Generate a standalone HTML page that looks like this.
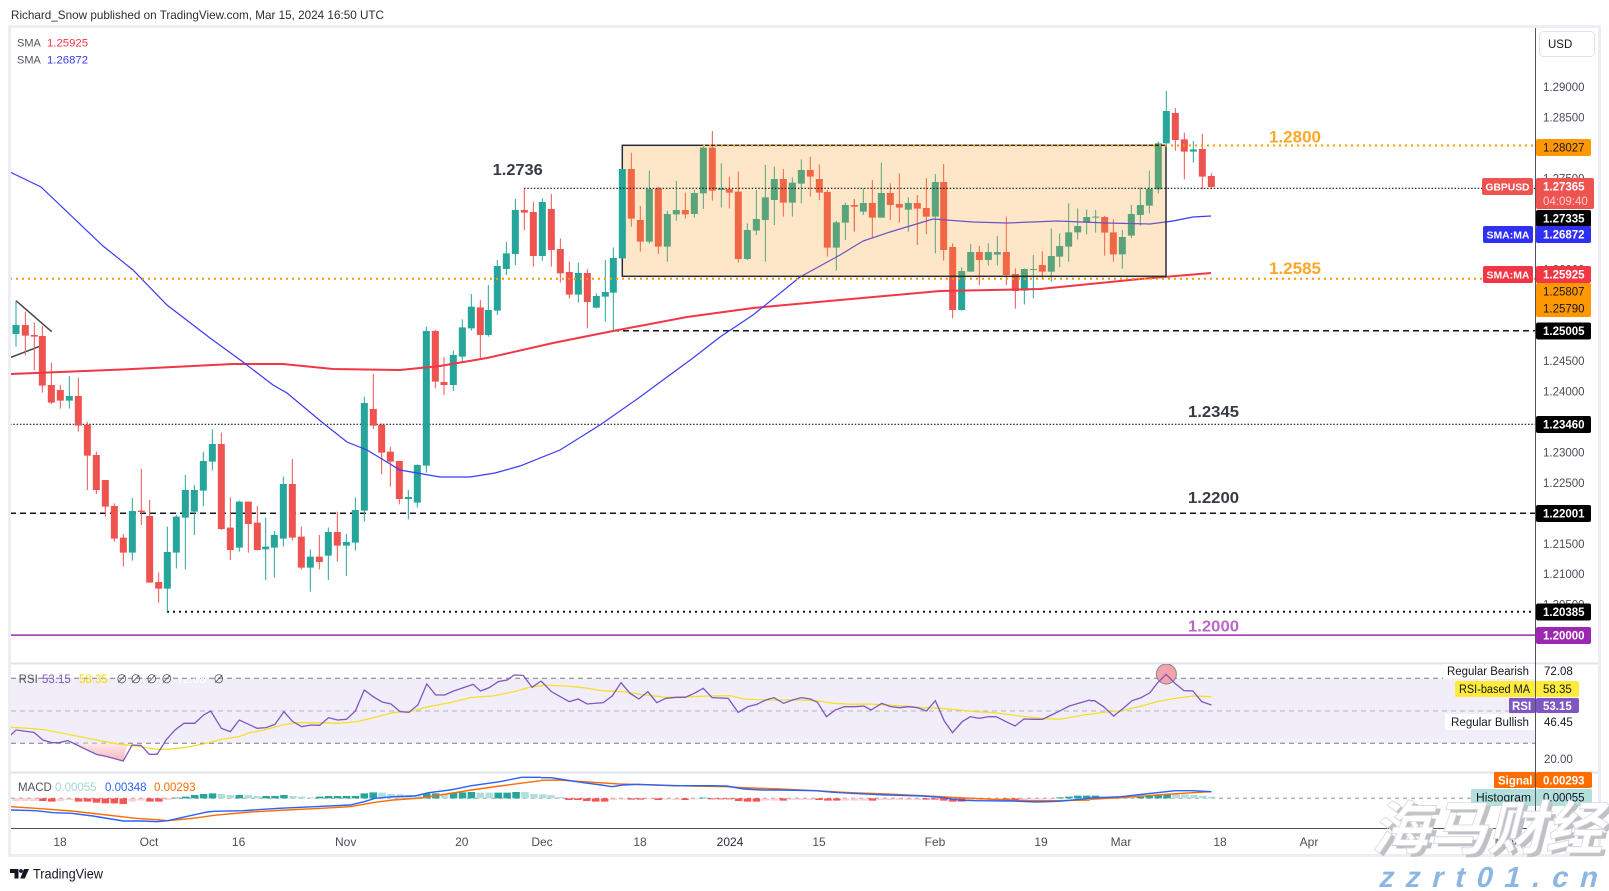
<!DOCTYPE html>
<html><head><meta charset="utf-8"><style>
html,body{margin:0;padding:0;background:#fff;}
svg{display:block;}
text{font-family:"Liberation Sans","Noto Sans CJK SC",sans-serif;}
</style></head><body>
<svg width="1609" height="891" viewBox="0 0 1609 891" xmlns="http://www.w3.org/2000/svg">
<defs>
<clipPath id="cm"><rect x="11" y="28" width="1524" height="635"/></clipPath>
<clipPath id="cr"><rect x="11" y="664" width="1524" height="107"/></clipPath>
<clipPath id="cd"><rect x="11" y="773" width="1524" height="55"/></clipPath>
<linearGradient id="pk" x1="0" y1="0" x2="0" y2="1"><stop offset="0" stop-color="#fde9eb"/><stop offset="1" stop-color="#f8b4bb"/></linearGradient>
</defs>
<rect width="1609" height="891" fill="#fff"/>
<text x="11" y="19" font-size="12" fill="#2a2e39" textLength="373" lengthAdjust="spacingAndGlyphs">Richard_Snow published on TradingView.com, Mar 15, 2024 16:50 UTC</text>

<!-- frame -->
<rect x="9.5" y="26.5" width="1590" height="829" fill="none" stroke="#eceef3" stroke-width="3"/>

<!-- MAIN PANE -->
<g clip-path="url(#cm)">
<!-- horizontal levels -->
<line x1="10" y1="424.3" x2="1535" y2="424.3" stroke="#131722" stroke-width="1.2" stroke-dasharray="1.5 1.8"/>
<line x1="10" y1="513.3" x2="1535" y2="513.3" stroke="#131722" stroke-width="1.5" stroke-dasharray="6 4"/>
<line x1="613" y1="330.7" x2="1535" y2="330.7" stroke="#131722" stroke-width="1.5" stroke-dasharray="6 4"/>
<line x1="167" y1="611.7" x2="1535" y2="611.7" stroke="#131722" stroke-width="2" stroke-dasharray="2 4"/>
<line x1="10" y1="635.1" x2="1535" y2="635.1" stroke="#9c27b0" stroke-width="1.5"/>
<!-- triangle -->
<line x1="16" y1="300.7" x2="51.7" y2="331.7" stroke="#434651" stroke-width="1.5"/>
<line x1="10" y1="357.7" x2="42.3" y2="345.3" stroke="#434651" stroke-width="1.5"/>

<!-- candles zoom7 -->
<g transform="translate(0,270) scale(0.333333)" fill="none">
<path stroke="#26a69a" stroke-width="3" d="M48 92V230M208 318V416M397 684V872M502 770V1025M529 735V895M556 615V898M583 645V795M610 545V708M637 478V602M718 692V845M797 743V930M823 783V923M850 620V830M931 838V965M985 773V930M1039 792V918M1066 682V842M1093 380V755M1225 660V748M1252 583V713M1279 170V608"/>
<path stroke="#26a69a" stroke-width="21" d="M48 165V192M208 378V392M397 723V848M502 846V956M529 740V848M556 660V743M583 660V725M610 573V662M637 522V575M718 695V833M797 830V838M823 795V833M850 642V806M931 860V893M985 786V857M1039 816V827M1066 720V818M1093 399V722M1225 681V687M1252 585V698M1279 183V587"/>
<path stroke="#ef5350" stroke-width="3" d="M76 125V255M103 158V300M127 168V368M154 278V402M181 345V416M235 323V485M262 456V660M289 545V672M316 630V740M343 700V815M370 792V890M424 597V765M449 690V938M476 908V998M664 488V780M691 682V870M745 695V848M772 708V842M877 567V812M904 770V898M958 795V898M1012 725V875M1120 312V477M1145 460V613M1171 530V650M1198 573V703M1306 180V355"/>
<path stroke="#ef5350" stroke-width="21" d="M76 165V197M103 195V200M127 198V347M154 345V398M181 360V392M235 378V467M262 464V557M289 555V660M316 630V710M343 708V806M370 803V848M424 722V726M449 738V938M476 936V956M664 522V777M691 773V840M745 695V762M772 758V840M877 642V803M904 800V893M958 860V876M1012 786V827M1120 417V467M1145 465V548M1171 545V575M1198 573V687M1306 183V335"/>
</g>
<!-- candles zoom8 -->
<g transform="translate(420,120) scale(0.333333)" fill="none">
<path stroke="#26a69a" stroke-width="3" d="M100 692V813M127 598V728M154 522V632M205 495V650M232 420V585M259 366V465M286 237V435M367 235V422M475 428V548M529 520V565M556 420V605M580 382V632M688 152V370M742 272V425M769 183V302M823 210V293M850 80V267M904 130V263M982 310V420M1009 210V345M1036 135V425M1063 140V315M1117 172V290M1144 118V250M1249 302V452"/>
<path stroke="#26a69a" stroke-width="21" d="M100 705V795M127 622V710M154 560V625M205 570V645M232 438V572M259 400V447M286 270V402M367 246V408M475 459V524M529 528V563M556 516V530M580 414V518M688 207V365M742 282V380M769 270V283M823 219V282M850 83V220M904 205V210M982 330V417M1009 297V332M1036 232V300M1063 177V240M1117 188V248M1144 150V191M1249 307V383"/>
<path stroke="#ef5350" stroke-width="3" d="M72 711V825M181 540V718M313 205V330M340 245V440M394 222V440M421 355V488M448 425V535M502 448V625M634 98V320M661 258V395M715 200V402M796 218V295M877 33V242M928 170V265M955 155V428M1090 147V290M1171 110V230M1198 133V240M1222 210V410M1303 238V335"/>
<path stroke="#ef5350" stroke-width="21" d="M72 786V795M181 562V645M313 270V278M340 276V408M394 267V390M421 387V460M448 456V524M502 459V546M634 147V296M661 300V365M715 205V380M796 270V283M877 83V212M928 207V218M955 215V417M1090 177V248M1171 150V170M1198 177V218M1222 216V383M1303 256V260"/>
</g>
<!-- candles zoom9 -->
<g transform="translate(840,80) scale(0.333333)" fill="none">
<path stroke="#26a69a" stroke-width="3" d="M16 368V480M70 325V405M124 248V413M205 352V455M286 282V520M365 562V692M392 492V575M445 490V557M472 468V557M553 565V673M580 525V655M634 445V605M659 460V562M686 370V545M713 385V478M740 388V463M767 390V458M847 450V566M874 375V474M901 322V437M928 272V400M955 185V340M1060 183V248"/>
<path stroke="#26a69a" stroke-width="21" d="M16 375V428M70 369V395M124 339V413M205 369V389M286 306V410M365 573V690M392 516V575M445 516V540M472 516V524M553 567V632M580 567V570M634 528V575M659 498V530M686 457V500M713 438V457M740 411V428M767 410V413M847 471V523M874 402V467M901 375V405M928 327V377M955 190V328M1060 208V215"/>
<path stroke="#ef5350" stroke-width="3" d="M43 357V455M97 300V475M151 310V420M178 280V428M232 345V495M259 294V462M311 252V542M338 490V715M418 498V615M499 410V615M526 565V686M607 514V595M794 408V527M820 418V545M1006 84V212M1033 158V298M1087 162V328M1114 280V328"/>
<path stroke="#ef5350" stroke-width="21" d="M43 375V380M97 369V413M151 339V375M178 372V383M232 369V386M259 384V410M311 306V510M338 501V690M418 516V540M499 516V585M526 582V633M607 555V575M794 411V458M820 457V523M1006 99V180M1033 178V215M1087 207V290M1114 288V321"/>
</g>

<!-- SMA lines -->
<polyline fill="none" stroke="#f23645" stroke-width="2" points="10,374 133,369 233,364 283,364 333,369 400,370 420,368 440,366 487,358 553,343 613,331 687,317 753,308 840,300 940,291 1040,289 1140,279 1211,273"/>
<polyline fill="none" stroke="#3a3af8" stroke-width="1.2" points="10,172 41,187 103,246 133,270 167,305 210,338 243,362 273,385 287,393 323,423 347,442 367,450 400,470 440,477 470,477 495,473 520,466 560,450 600,425 640,397 663,380 693,358 720,337 753,315 800,277 840,255 863,241 890,232 933,219 973,222 1007,223 1057,221 1107,223 1150,224 1173,221 1193,217 1211,216"/>

<!-- range box -->
<rect x="622.3" y="145.3" width="543.7" height="131" fill="rgba(247,159,35,0.25)" stroke="#2a2e39" stroke-width="1.5"/>
<!-- candles drawn above box -->
<g transform="translate(420,120) scale(0.333333)" fill="none">
<path stroke="#26a69a" stroke-width="3" d="M607 147V415"/>
<path stroke="#26a69a" stroke-width="21" d="M607 147V415"/>
</g>
<g transform="translate(840,80) scale(0.333333)" fill="none">
<path stroke="#26a69a" stroke-width="3" d="M979 33V200"/>
<path stroke="#26a69a" stroke-width="21" d="M979 93V190"/>
</g>

<!-- dotted lines over box -->
<line x1="524" y1="188.3" x2="1535" y2="188.3" stroke="#131722" stroke-width="1.2" stroke-dasharray="1.5 1.8"/>
<line x1="703" y1="145.5" x2="1535" y2="145.5" stroke="#ff9800" stroke-width="2" stroke-dasharray="2 4"/>
<line x1="10" y1="278.8" x2="1535" y2="278.8" stroke="#ff9800" stroke-width="2" stroke-dasharray="2 4"/>

<!-- level labels -->
<text x="492.7" y="175" font-size="16" font-weight="bold" fill="#363a45" textLength="50" lengthAdjust="spacingAndGlyphs">1.2736</text>
<text x="1188" y="417" font-size="16" font-weight="bold" fill="#363a45" textLength="51" lengthAdjust="spacingAndGlyphs">1.2345</text>
<text x="1188" y="503" font-size="16" font-weight="bold" fill="#363a45" textLength="51" lengthAdjust="spacingAndGlyphs">1.2200</text>
<text x="1188" y="631.5" font-size="16" font-weight="bold" fill="#ba68c8" textLength="51" lengthAdjust="spacingAndGlyphs">1.2000</text>
<text x="1269" y="142.5" font-size="16.5" font-weight="bold" fill="#ffa726" textLength="52" lengthAdjust="spacingAndGlyphs">1.2800</text>
<text x="1269" y="274" font-size="16.5" font-weight="bold" fill="#ffa726" textLength="52" lengthAdjust="spacingAndGlyphs">1.2585</text>
</g>

<!-- SMA legend -->
<text x="17" y="46.7" font-size="11" fill="#50535e">SMA</text>
<text x="47" y="46.7" font-size="11" fill="#f23645" textLength="41" lengthAdjust="spacingAndGlyphs">1.25925</text>
<text x="17" y="63.3" font-size="11" fill="#50535e">SMA</text>
<text x="47" y="63.3" font-size="11" fill="#3a3af8" textLength="41" lengthAdjust="spacingAndGlyphs">1.26872</text>

<!-- pane separators -->
<line x1="11" y1="663.5" x2="1598" y2="663.5" stroke="#e0e3eb" stroke-width="2"/>
<line x1="11" y1="772.5" x2="1598" y2="772.5" stroke="#e0e3eb" stroke-width="2"/>

<!-- RSI PANE -->
<g clip-path="url(#cr)">
<rect x="11" y="678.3" width="1524" height="65" fill="#f1eef9"/>
<line x1="11" y1="678.3" x2="1535" y2="678.3" stroke="#787b86" stroke-width="1" stroke-dasharray="5 4"/>
<line x1="11" y1="711" x2="1535" y2="711" stroke="#b2b5be" stroke-width="1" stroke-dasharray="5 4"/>
<line x1="11" y1="743.3" x2="1535" y2="743.3" stroke="#787b86" stroke-width="1" stroke-dasharray="5 4"/>
<circle cx="1166.4" cy="674" r="10" fill="#f5a3aa" stroke="#80838c" stroke-width="1"/>
<g transform="translate(0,640) scale(0.357143,0.333333)">
<polygon points="200,310 270,343 300,350 345,363 358,310" fill="url(#pk)"/>
<polyline fill="none" stroke="#f5df2a" stroke-width="1.3" vector-effect="non-scaling-stroke" points="30,262 80,265 130,270 200,285 270,300 330,312 380,318 440,328 470,328 520,322 570,312 620,298 670,290 700,278 740,270 790,255 830,248 900,248 950,250 1000,245 1050,232 1100,218 1160,212 1200,200 1260,188 1320,172 1380,168 1440,155 1490,140 1520,137"/>
<polyline fill="none" stroke="#7e57c2" stroke-width="1.3" vector-effect="non-scaling-stroke" points="30,285 45,270 95,277 120,300 145,308 165,308 190,302 270,343 300,350 345,363 370,315 395,316 418,343 440,343 465,300 490,270 515,250 545,250 570,225 590,213 620,265 645,275 670,240 720,265 745,263 770,253 795,215 820,245 845,260 870,255 895,256 920,233 945,240 970,238 995,213 1020,150 1045,170 1070,186 1095,192 1120,215 1145,217 1170,195 1195,132 1220,165 1245,165 1270,153 1300,142 1325,133 1345,153 1370,143 1395,125 1420,120 1440,105 1465,106 1490,142 1515,123"/>
</g>
<g transform="translate(530,640) scale(0.357143,0.333333)">
<polyline fill="none" stroke="#f5df2a" stroke-width="1.3" vector-effect="non-scaling-stroke" points="31,135 100,138 150,143 200,152 260,155 310,163 380,172 450,170 500,168 560,167 600,177 660,180 710,180 760,180 800,182 850,190 900,193 950,192 1000,195 1050,198 1100,203 1150,205 1200,210 1250,215 1300,218 1350,225 1400,232 1450,236 1480,238 1510,233 1550,225 1568,222"/>
<polyline fill="none" stroke="#7e57c2" stroke-width="1.3" vector-effect="non-scaling-stroke" points="31,123 60,155 85,170 110,185 135,177 160,192 205,188 230,168 255,128 280,160 305,177 330,155 355,188 380,175 410,172 435,172 460,160 485,145 510,173 555,175 583,217 610,200 635,193 660,180 683,173 710,190 735,180 760,173 785,177 805,187 830,230 855,210 880,200 910,200 935,198 955,210 985,190 1010,200 1035,203 1060,200 1085,203 1110,213 1135,182 1160,243 1183,278 1210,245 1233,230 1258,235 1285,230 1305,230 1333,245 1358,258 1383,237 1410,238 1435,238 1460,225 1485,212 1510,198 1535,190 1568,180"/>
</g>
<g transform="translate(1050,640) scale(0.357143,0.333333)">
<polyline fill="none" stroke="#f5df2a" stroke-width="1.3" vector-effect="non-scaling-stroke" points="112,223 150,217 200,212 250,200 300,185 350,175 400,168 452,170"/>
<polyline fill="none" stroke="#7e57c2" stroke-width="1.3" vector-effect="non-scaling-stroke" points="112,182 125,182 150,200 178,228 205,205 230,182 255,173 280,158 300,130 325,103 350,130 375,152 400,153 425,185 452,195"/>
</g>
</g>
<!-- RSI legend -->
<g font-size="11.5">
<text x="18.6" y="683" fill="#50535e">RSI</text>
<text x="42" y="683" fill="#7e57c2">53.15</text>
<text x="79" y="683" fill="#f5d90a">58.35</text>
<text x="116" y="683" fill="#50535e">∅</text>
<text x="130" y="683" fill="#50535e">∅</text>
<text x="146" y="683" fill="#50535e">∅</text>
<text x="161" y="683" fill="#50535e">∅</text>
<text x="177" y="683" fill="#ffffff">72.08</text>
<text x="213" y="683" fill="#50535e">∅</text>
</g>

<!-- MACD PANE -->
<g clip-path="url(#cd)">
<line x1="11" y1="798.3" x2="1535" y2="798.3" stroke="#9598a1" stroke-width="1" stroke-dasharray="4 4"/>
<g transform="translate(0,640) scale(0.357143,0.333333)">
<path fill="#ffcdd2" d="M34.5 475h21v8h-21zM59.5 475h21v8h-21zM84.5 475h21v8h-21zM159.5 475h21v8h-21zM184.5 475h21v5h-21zM359.5 475h21v10h-21zM384.5 475h21v7h-21zM459.5 475h21v5h-21z"/>
<path fill="#ff5252" d="M109.5 475h21v8h-21zM134.5 475h21v10h-21zM209.5 475h21v10h-21zM234.5 475h21v10h-21zM259.5 475h21v13h-21zM284.5 475h21v15h-21zM309.5 475h21v15h-21zM334.5 475h21v17h-21zM409.5 475h21v10h-21zM434.5 475h21v10h-21z"/>
<path fill="#26a69a" d="M484.5 473h21v2h-21zM509.5 470h21v5h-21zM534.5 465h21v10h-21zM559.5 462h21v13h-21zM584.5 460h21v15h-21zM659.5 465h21v10h-21zM734.5 468h21v7h-21zM759.5 468h21v7h-21zM784.5 465h21v10h-21zM884.5 470h21v5h-21zM909.5 468h21v7h-21zM934.5 468h21v7h-21zM959.5 468h21v7h-21zM984.5 468h21v7h-21zM1009.5 460h21v15h-21zM1034.5 457h21v18h-21zM1184.5 460h21v15h-21zM1209.5 460h21v15h-21zM1259.5 458h21v17h-21zM1284.5 457h21v18h-21zM1309.5 456h21v19h-21zM1384.5 458h21v17h-21zM1409.5 458h21v17h-21zM1434.5 456h21v19h-21z"/>
<path fill="#b2dfdb" d="M609.5 462h21v13h-21zM634.5 465h21v10h-21zM684.5 465h21v10h-21zM709.5 468h21v7h-21zM809.5 468h21v7h-21zM834.5 470h21v5h-21zM859.5 472h21v3h-21zM1059.5 458h21v17h-21zM1084.5 462h21v13h-21zM1109.5 463h21v12h-21zM1134.5 465h21v10h-21zM1159.5 466h21v9h-21zM1234.5 460h21v15h-21zM1334.5 458h21v17h-21zM1359.5 458h21v17h-21zM1459.5 456h21v19h-21zM1484.5 462h21v13h-21zM1509.5 463h21v12h-21z"/>
<polyline fill="none" stroke="#ff6d00" stroke-width="1.4" vector-effect="non-scaling-stroke" points="30,500 100,505 200,513 300,525 380,535 450,540 470,542 540,535 600,526 700,516 800,510 900,505 980,500 1050,487 1100,480 1170,475 1250,462 1320,450 1400,438 1470,428 1515,422"/>
<polyline fill="none" stroke="#2962ff" stroke-width="1.4" vector-effect="non-scaling-stroke" points="30,510 100,512 150,518 200,520 260,528 345,543 400,543 440,545 470,542 520,530 580,516 600,514 680,512 780,505 880,500 980,495 1020,485 1050,475 1100,470 1160,468 1200,458 1260,450 1320,437 1400,425 1460,412 1515,412"/>
</g>
<g transform="translate(530,640) scale(0.357143,0.333333)">
<path fill="#b2dfdb" d="M48.5 465h21v10h-21zM73.5 471h21v4h-21z"/>
<path fill="#ff5252" d="M98.5 475h21v5h-21zM123.5 475h21v5h-21zM148.5 475h21v8h-21zM173.5 475h21v10h-21zM198.5 475h21v10h-21zM273.5 475h21v4h-21zM298.5 475h21v4h-21zM348.5 475h21v5h-21zM423.5 475h21v5h-21zM498.5 475h21v3h-21zM523.5 475h21v3h-21zM548.5 475h21v3h-21zM573.5 475h21v8h-21zM598.5 475h21v10h-21zM623.5 475h21v10h-21zM698.5 475h21v7h-21zM798.5 475h21v5h-21zM823.5 475h21v7h-21zM848.5 475h21v7h-21zM948.5 475h21v7h-21zM1098.5 475h21v4h-21zM1123.5 475h21v4h-21zM1148.5 475h21v7h-21zM1173.5 475h21v10h-21zM1198.5 475h21v10h-21zM1323.5 475h21v5h-21zM1348.5 475h21v7h-21z"/>
<path fill="#ffcdd2" d="M223.5 475h21v5h-21zM248.5 475h21v4h-21zM323.5 475h21v3h-21zM373.5 475h21v4h-21zM398.5 475h21v5h-21zM448.5 475h21v3h-21zM648.5 475h21v7h-21zM673.5 475h21v7h-21zM723.5 475h21v5h-21zM748.5 475h21v5h-21zM773.5 475h21v5h-21zM873.5 475h21v7h-21zM898.5 475h21v7h-21zM923.5 475h21v7h-21zM973.5 475h21v5h-21zM998.5 475h21v5h-21zM1023.5 475h21v5h-21zM1048.5 475h21v5h-21zM1073.5 475h21v5h-21zM1223.5 475h21v7h-21zM1248.5 475h21v7h-21zM1273.5 475h21v7h-21zM1298.5 475h21v5h-21zM1373.5 475h21v5h-21zM1398.5 475h21v4h-21zM1423.5 475h21v4h-21zM1448.5 475h21v3h-21z"/>
<path fill="#26a69a" d="M473.5 473h21v2h-21zM1473.5 472h21v3h-21zM1498.5 470h21v5h-21zM1523.5 467h21v8h-21zM1548.5 467h21v8h-21z"/>
<polyline fill="none" stroke="#ff6d00" stroke-width="1.4" vector-effect="non-scaling-stroke" points="31,421 80,420 150,425 250,432 350,435 450,438 550,440 600,443 700,447 800,452 900,458 1000,462 1100,467 1150,470 1200,473 1300,478 1400,482 1480,482 1568,480"/>
<polyline fill="none" stroke="#2962ff" stroke-width="1.4" vector-effect="non-scaling-stroke" points="31,413 60,413 100,420 150,428 200,435 230,440 260,435 300,433 400,437 500,437 550,438 600,447 650,450 700,450 800,452 850,457 900,460 1000,465 1100,468 1150,472 1200,480 1250,482 1350,483 1420,486 1480,484 1568,475"/>
</g>
<g transform="translate(1050,640) scale(0.357143,0.333333)">
<path fill="#26a69a" d="M117.5 467h21v8h-21zM242.5 470h21v5h-21zM267.5 467h21v8h-21zM292.5 465h21v10h-21zM317.5 463h21v12h-21z"/>
<path fill="#b2dfdb" d="M142.5 470h21v5h-21zM167.5 470h21v5h-21zM192.5 472h21v3h-21zM217.5 472h21v3h-21zM342.5 463h21v12h-21zM367.5 463h21v12h-21zM392.5 465h21v10h-21zM417.5 467h21v8h-21zM442.5 470h21v5h-21z"/>
<polyline fill="none" stroke="#ff6d00" stroke-width="1.4" vector-effect="non-scaling-stroke" points="112,478 200,473 300,465 400,458 452,455"/>
<polyline fill="none" stroke="#2962ff" stroke-width="1.4" vector-effect="non-scaling-stroke" points="112,474 200,470 300,458 350,452 400,452 452,455"/>
</g>
</g>
<!-- MACD legend -->
<g font-size="11.5">
<text x="18" y="791" fill="#50535e">MACD</text>
<text x="55" y="791" fill="#a6d8d2">0.00055</text>
<text x="105" y="791" fill="#2962ff">0.00348</text>
<text x="154" y="791" fill="#ff6d00">0.00293</text>
</g>

<!-- axes lines -->
<line x1="11" y1="828.5" x2="1535.5" y2="828.5" stroke="#50535e" stroke-width="1"/>
<line x1="1535.5" y1="28" x2="1535.5" y2="855" stroke="#50535e" stroke-width="1"/>

<!-- time axis labels -->
<g font-size="12" fill="#4a4e59" text-anchor="middle">
<text x="60" y="846">18</text>
<text x="149" y="846">Oct</text>
<text x="238.6" y="846">16</text>
<text x="345.7" y="846">Nov</text>
<text x="461.8" y="846">20</text>
<text x="542" y="846">Dec</text>
<text x="640" y="846">18</text>
<text x="730" y="846" fill="#2a2e39">2024</text>
<text x="819" y="846">15</text>
<text x="935" y="846">Feb</text>
<text x="1041" y="846">19</text>
<text x="1121" y="846">Mar</text>
<text x="1220" y="846">18</text>
<text x="1309" y="846">Apr</text>
<text x="1398" y="846">15</text>
<text x="1506" y="846">May</text>
</g>

<!-- price axis -->
<rect x="1539.5" y="31.5" width="55" height="25" rx="4" fill="#fff" stroke="#e0e3eb"/>
<text x="1548" y="48" font-size="11.5" fill="#131722">USD</text>
<g font-size="11.5" fill="#4a4e59">
<text x="1543" y="91">1.29000</text>
<text x="1543" y="121.5">1.28500</text>
<text x="1543" y="182.4">1.27500</text>
<text x="1543" y="273.7">1.26000</text>
<text x="1543" y="365">1.24500</text>
<text x="1543" y="395.5">1.24000</text>
<text x="1543" y="456.4">1.23000</text>
<text x="1543" y="486.9">1.22500</text>
<text x="1543" y="547.8">1.21500</text>
<text x="1543" y="578.2">1.21000</text>
<text x="1543" y="608.7">1.20500</text>
</g>
<!-- colored axis boxes -->
<rect x="1536" y="139" width="55" height="17" rx="2" fill="#ff9800"/>
<text x="1543" y="151.5" font-size="11.5" fill="#131722">1.28027</text>

<rect x="1482" y="178" width="51" height="17" rx="2" fill="#ef5350"/>
<text x="1485.5" y="190.5" font-size="10.5" font-weight="bold" fill="#fff" textLength="44" lengthAdjust="spacingAndGlyphs">GBPUSD</text>
<rect x="1536" y="178" width="58" height="31" rx="2" fill="#ef5350"/>
<text x="1543" y="190.5" font-size="11.5" font-weight="bold" fill="#fff">1.27365</text>
<text x="1543" y="205" font-size="11.5" fill="#fcd0d0">04:09:40</text>

<rect x="1536" y="210" width="55" height="17" rx="2" fill="#000"/>
<text x="1543" y="222.5" font-size="11.5" font-weight="bold" fill="#fff">1.27335</text>

<rect x="1483" y="226" width="50" height="17" rx="2" fill="#3030f5"/>
<text x="1486.5" y="238.5" font-size="10.5" font-weight="bold" fill="#fff" textLength="43" lengthAdjust="spacingAndGlyphs">SMA:MA</text>
<rect x="1536" y="226" width="55" height="17" rx="2" fill="#3030f5"/>
<text x="1543" y="238.5" font-size="11.5" font-weight="bold" fill="#fff">1.26872</text>

<rect x="1483" y="266" width="50" height="17" rx="2" fill="#f23645"/>
<text x="1486.5" y="278.5" font-size="10.5" font-weight="bold" fill="#fff" textLength="43" lengthAdjust="spacingAndGlyphs">SMA:MA</text>
<rect x="1536" y="266" width="55" height="17" rx="2" fill="#f23645"/>
<text x="1543" y="278.5" font-size="11.5" font-weight="bold" fill="#fff">1.25925</text>

<rect x="1536" y="283" width="55" height="34" rx="2" fill="#ff9800"/>
<text x="1543" y="295.5" font-size="11.5" fill="#131722">1.25807</text>
<text x="1543" y="312.5" font-size="11.5" fill="#131722">1.25790</text>

<rect x="1536" y="322.5" width="55" height="17" rx="2" fill="#000"/>
<text x="1543" y="335" font-size="11.5" font-weight="bold" fill="#fff">1.25005</text>
<rect x="1536" y="416" width="55" height="17" rx="2" fill="#000"/>
<text x="1543" y="428.5" font-size="11.5" font-weight="bold" fill="#fff">1.23460</text>
<rect x="1536" y="505" width="55" height="17" rx="2" fill="#000"/>
<text x="1543" y="517.5" font-size="11.5" font-weight="bold" fill="#fff">1.22001</text>
<rect x="1536" y="603.5" width="55" height="17" rx="2" fill="#000"/>
<text x="1543" y="616" font-size="11.5" font-weight="bold" fill="#fff">1.20385</text>
<rect x="1536" y="627" width="55" height="17" rx="2" fill="#9c27b0"/>
<text x="1543" y="639.5" font-size="11.5" font-weight="bold" fill="#fff">1.20000</text>

<!-- RSI axis labels -->
<rect x="1443" y="664" width="92" height="15" fill="#fff"/>
<text x="1447" y="675" font-size="11.5" fill="#131722" textLength="82" lengthAdjust="spacingAndGlyphs">Regular Bearish</text>
<text x="1544" y="675" font-size="11.5" fill="#131722">72.08</text>
<rect x="1455" y="681" width="80" height="16" rx="1" fill="#ffeb3b"/>
<text x="1459" y="693" font-size="11.5" fill="#131722" textLength="71" lengthAdjust="spacingAndGlyphs">RSI-based MA</text>
<rect x="1536" y="681" width="43" height="16" rx="2" fill="#ffeb3b"/>
<text x="1543" y="693" font-size="11.5" fill="#131722">58.35</text>
<rect x="1509" y="698" width="26" height="15" rx="1" fill="#7e57c2"/>
<text x="1512" y="710" font-size="11.5" font-weight="bold" fill="#fff">RSI</text>
<rect x="1536" y="698" width="43" height="15" rx="2" fill="#7e57c2"/>
<text x="1543" y="710" font-size="11.5" font-weight="bold" fill="#fff">53.15</text>
<rect x="1445" y="714" width="90" height="16" fill="#fff"/>
<text x="1451" y="726" font-size="11.5" fill="#131722" textLength="78" lengthAdjust="spacingAndGlyphs">Regular Bullish</text>
<text x="1544" y="726" font-size="11.5" fill="#131722">46.45</text>
<text x="1544" y="763" font-size="11.5" fill="#4a4e59">20.00</text>

<!-- MACD axis labels -->
<rect x="1494" y="772" width="41" height="16" rx="1" fill="#ff6d00"/>
<text x="1498" y="784.5" font-size="11.5" font-weight="bold" fill="#fff">Signal</text>
<rect x="1536" y="772" width="56" height="16" rx="2" fill="#ff6d00"/>
<text x="1543" y="784.5" font-size="11.5" font-weight="bold" fill="#fff">0.00293</text>
<rect x="1471" y="789" width="64" height="17" rx="1" fill="#b2dfdb"/>
<text x="1476" y="801.5" font-size="11.5" fill="#131722" textLength="55" lengthAdjust="spacingAndGlyphs">Histogram</text>
<rect x="1536" y="789" width="56" height="17" rx="2" fill="#b2dfdb"/>
<text x="1543" y="801.5" font-size="11.5" fill="#131722">0.00055</text>

<!-- TradingView footer -->
<path d="M10 869h8.5v9.5h-4v-5.5h-4.5z" fill="#131722"/>
<circle cx="21" cy="871" r="1.9" fill="#131722"/>
<path d="M24 869h5l-4.2 9.5h-4.6z" fill="#131722"/>
<text x="33" y="878.5" font-size="14" fill="#131722" textLength="70" lengthAdjust="spacingAndGlyphs">TradingView</text>

<!-- watermark -->
<g transform="translate(1375,852) skewX(-14)">
<text x="0" y="0" font-size="58" font-weight="bold" fill="#bfc1c6" font-family="'Noto Sans CJK SC','WenQuanYi Zen Hei',sans-serif">海马财经</text>
</g>
<g transform="translate(1371,849) skewX(-14)">
<text x="0" y="0" font-size="58" font-weight="bold" fill="#ffffff" stroke="#d6d8dc" stroke-width="0.8" font-family="'Noto Sans CJK SC','WenQuanYi Zen Hei',sans-serif">海马财经</text>
</g>
<g transform="translate(1378,887) skewX(-14)">
<text x="0" y="0" font-size="29" font-weight="bold" fill="#8db7e2" textLength="218" lengthAdjust="spacing">zzrt01.cn</text>
</g>
</svg>
</body></html>
